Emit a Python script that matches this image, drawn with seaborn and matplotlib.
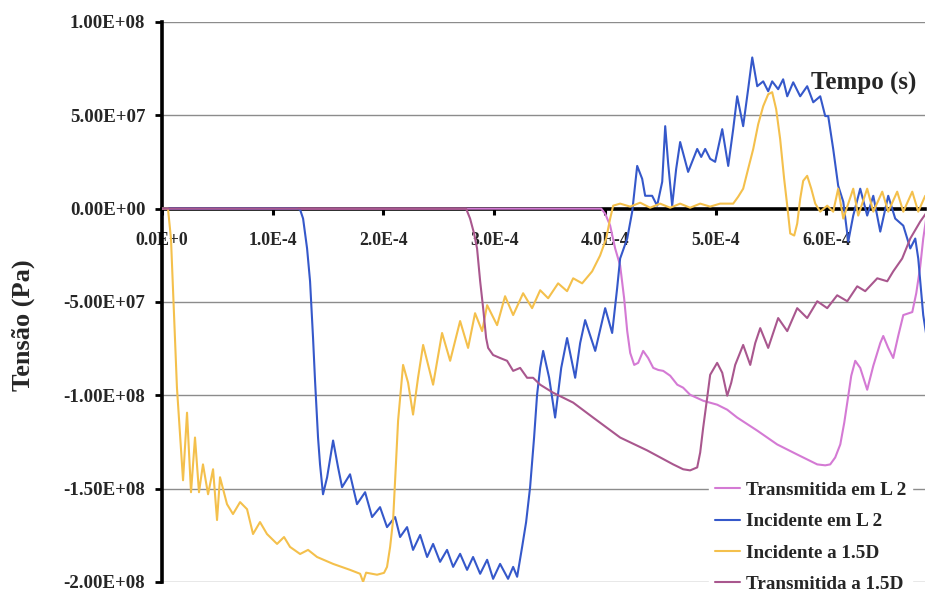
import matplotlib
matplotlib.use("Agg")
import matplotlib.pyplot as plt
import pandas as pd
import seaborn as sns

# ---------------- data (time in microseconds, stress in MPa) ----------------
t_inc_15d = [0, 5.4, 8.1, 9.9, 13.5, 19.0, 22.6, 26.2, 29.8, 33.4, 37.0, 41.6, 46.1, 49.7, 52.4,
             58.7, 64.1, 70.5, 76.8, 82.2, 88.5, 94.8, 103.9, 110.2, 115.6, 124.7, 131.9, 140.0,
             154.5, 169.8, 178.9, 181.6, 184.3, 194.2, 200.5, 203.2, 206.0, 208.7, 213.2, 217.7,
             222.2, 226.7, 231.2, 235.8, 244.8, 252.9, 260.2, 269.2, 276.4, 282.7, 289.1, 293.6,
             302.6, 309.8, 317.1, 326.1, 334.2, 341.5, 348.7, 357.7, 365.8, 371.3, 379.4, 388.4,
             395.6, 401.1, 404.7, 407.4, 413.7, 422.8, 431.8, 440.8, 449.8, 458.9, 467.9, 476.9,
             486.0, 495.0, 504.0, 515.8, 520.3, 524.8, 529.3, 533.9, 538.4, 542.9, 547.4, 551.0,
             554.6, 558.2, 561.8, 564.6, 567.3, 570.9, 573.6, 576.3, 579.0, 582.6, 586.3, 589.9,
             594.4, 600.7, 606.1, 610.6, 615.2, 624.2, 628.7, 636.8, 642.3, 650.4, 655.8, 663.9,
             669.4, 677.5, 682.9, 689.2]
s_inc_15d = [0, 0, -16.0, -42.6, -95.9, -145.5, -109.3, -151.9, -122.6, -151.9, -137.0, -153.0,
             -139.6, -166.8, -143.9, -158.3, -163.6, -157.2, -161.0, -174.3, -167.9, -174.3, -179.6,
             -175.9, -181.2, -185.0, -182.8, -186.6, -190.3, -193.5, -195.6, -199.9, -195.0, -196.1,
             -195.1, -191.9, -181.2, -166.8, -113.5, -83.7, -93.2, -110.3, -90.6, -73.0, -94.3,
             -66.6, -81.5, -60.2, -74.6, -56.0, -65.6, -51.7, -62.4, -46.9, -57.0, -45.3, -53.3,
             -43.7, -48.0, -40.0, -44.2, -37.3, -40.0, -33.6, -25.1, -16.0, -5.3, 1.6, 2.7, 1.1,
             3.2, 0.5, 2.7, 0.5, 2.7, 0.5, 2.7, 1.1, 2.7, 2.7, 6.4, 10.7, 21.3, 32.0, 45.3, 54.9,
             61.3, 62.4, 53.3, 37.3, 16.0, 1.6, -13.3, -14.4, -8.0, 5.3, 14.9, 17.6, 10.7, 2.7,
             -1.6, 1.6, -1.6, 10.7, -5.3, 10.7, -3.7, 10.7, -1.6, 9.1, -1.6, 9.1, -1.6, 9.1, -1.6,
             6.9]

t_inc_l2 = [0, 121.9, 124.7, 127.4, 131.0, 133.7, 136.4, 138.2, 140.9, 142.7, 145.4, 149.1, 154.5,
            159.0, 162.6, 169.8, 176.1, 183.4, 189.7, 196.9, 203.2, 210.5, 215.0, 221.3, 226.7,
            233.1, 239.4, 244.8, 251.1, 257.4, 262.9, 269.2, 275.5, 280.9, 287.3, 293.6, 299.0,
            305.3, 312.5, 317.1, 320.7, 325.2, 328.8, 332.4, 336.0, 338.7, 341.5, 344.2, 349.6,
            355.0, 360.5, 365.8, 373.1, 377.6, 382.1, 391.2, 400.2, 406.5, 411.0, 413.7, 420.1,
            424.6, 429.1, 433.6, 436.3, 442.6, 447.1, 451.7, 454.4, 457.1, 460.7, 464.3, 467.9,
            475.1, 483.3, 486.9, 490.5, 495.0, 499.5, 505.9, 511.3, 515.8, 519.4, 524.8, 529.3,
            533.0, 537.5, 542.9, 547.4, 551.0, 556.4, 560.9, 564.6, 570.0, 576.3, 582.6, 588.1,
            594.4, 598.9, 601.6, 606.1, 610.6, 615.2, 619.7, 624.2, 630.5, 636.8, 642.3, 648.6,
            655.8, 662.1, 669.4, 675.7, 680.2, 682.9, 687.4, 691.0]
s_inc_l2 = [0, 0, -0.5, -5.3, -21.3, -38.9, -69.3, -92.2, -122.6, -137.0, -153.0, -143.9, -124.2,
            -138.6, -149.2, -142.3, -158.3, -151.9, -165.2, -159.9, -170.6, -165.2, -175.9, -170.6,
            -182.8, -174.8, -186.6, -179.6, -189.2, -182.8, -191.9, -184.9, -193.5, -186.6, -195.6,
            -188.1, -198.3, -190.3, -198.3, -191.9, -197.2, -181.2, -167.9, -149.2, -122.6, -99.7,
            -85.3, -76.2, -90.6, -111.9, -85.3, -69.3, -90.6, -72.0, -59.7, -76.2, -53.3, -66.6,
            -42.6, -26.7, -16.0, -1.6, 22.9, 16.0, 6.9, 6.9, 1.6, 14.4, 44.2, 24.0, 1.6, 21.3, 35.7,
            19.7, 32.0, 27.7, 32.0, 26.7, 25.1, 42.6, 22.9, 42.6, 60.2, 44.2, 64.0, 81.0, 65.6,
            68.2, 62.9, 68.2, 64.0, 69.3, 60.2, 67.7, 60.2, 65.6, 57.0, 60.2, 49.6, 49.6, 32.0,
            12.3, 3.7, -17.6, -3.7, 10.7, -3.7, 6.9, -12.3, 6.9, -5.3, -9.1, -21.3, -16.0, -26.7,
            -57.0, -70.9]

t_tr_15d = [0, 274.6, 278.2, 281.8, 284.5, 287.3, 290.0, 292.7, 294.5, 299.0, 305.3, 311.6, 317.1,
            323.4, 329.7, 335.1, 341.5, 353.2, 371.3, 389.3, 413.7, 438.1, 461.6, 470.6, 476.9,
            483.3, 486.0, 488.7, 492.3, 495.0, 501.3, 505.9, 510.4, 514.0, 517.6, 524.8, 531.2,
            535.7, 540.2, 547.4, 556.4, 564.6, 573.6, 582.6, 591.7, 600.7, 609.7, 618.8, 627.8,
            635.0, 645.9, 654.9, 660.3, 668.4, 675.7, 684.7, 691.0]
s_tr_15d = [0, 0, -5.3, -13.3, -21.3, -38.9, -53.3, -69.3, -74.6, -78.4, -80.0, -81.5, -86.9, -85.3,
            -90.6, -90.6, -94.3, -98.6, -103.9, -111.9, -122.6, -129.5, -137.0, -139.6, -140.2,
            -138.6, -130.6, -117.3, -101.3, -89.0, -82.6, -87.9, -100.2, -93.3, -83.7, -73.0, -83.7,
            -72.0, -64.0, -74.6, -58.6, -65.6, -53.3, -58.6, -49.6, -53.3, -46.4, -49.6, -41.6,
            -44.2, -37.3, -38.9, -33.6, -26.7, -16.0, -6.9, -1.6]

t_tr_l2 = [0, 396.6, 400.2, 404.7, 409.2, 413.7, 417.3, 420.1, 422.8, 426.4, 430.0, 434.5, 439.0,
           443.6, 448.1, 452.6, 458.9, 465.3, 470.6, 476.9, 488.7, 501.3, 510.4, 519.4, 537.5,
           555.5, 573.6, 591.7, 598.9, 603.4, 607.9, 612.5, 616.1, 618.8, 622.4, 626.0, 630.5,
           636.8, 642.3, 648.6, 651.3, 655.8, 660.3, 664.8, 669.4, 677.5, 681.1, 684.7, 687.4,
           691.0]
s_tr_l2 = [0, 0, -2.7, -9.1, -21.3, -30.4, -48.0, -65.6, -77.3, -83.7, -82.6, -76.2, -80.0, -85.3,
           -86.4, -86.9, -89.5, -94.3, -95.9, -99.7, -102.9, -105.0, -107.7, -111.9, -118.9, -126.3,
           -131.7, -137.0, -137.5, -137.0, -133.3, -126.3, -114.6, -103.9, -89.5, -81.5, -85.3,
           -97.0, -84.2, -72.0, -68.2, -74.6, -80.0, -68.2, -57.0, -55.4, -45.3, -30.9, -16.0, -1.6]

series_names = ["Transmitida em L 2", "Incidente em L 2", "Incidente a 1.5D", "Transmitida a 1.5D"]
series_t = [t_tr_l2, t_inc_l2, t_inc_15d, t_tr_15d]
series_s = [s_tr_l2, s_inc_l2, s_inc_15d, s_tr_15d]
series_colors = ["#D47AD4", "#3558CA", "#F4C04C", "#A9578E"]

x_ticks = [0.0, 1e-4, 2e-4, 3e-4, 4e-4, 5e-4, 6e-4]
x_tick_labels = ["0.0E+0", "1.0E-4", "2.0E-4", "3.0E-4", "4.0E-4", "5.0E-4", "6.0E-4"]
y_ticks = [1e8, 5e7, 0.0, -5e7, -1e8, -1.5e8, -2e8]
y_tick_labels = ["1.00E+08", "5.00E+07", "0.00E+00", "-5.00E+07", "-1.00E+08", "-1.50E+08", "-2.00E+08"]

# ---------------- style ----------------
sns.set_theme(style="white")
plt.rcParams["font.family"] = ["Liberation Serif", "DejaVu Serif"]
plt.rcParams["font.weight"] = "bold"

fig = plt.figure(figsize=(9.28, 5.93), dpi=100)
ax = fig.add_axes([162 / 928, 11 / 593, 763 / 928, 560 / 593])

for name, t, s, c in zip(series_names, series_t, series_s, series_colors):
    df = pd.DataFrame({"Tempo": [v * 1e-6 for v in t], "Tensao": [v * 1e6 for v in s]})
    sns.lineplot(data=df, x="Tempo", y="Tensao", color=c, label=name, ax=ax,
                 estimator=None, sort=False, linewidth=1.5, zorder=3,
                 solid_joinstyle="round", solid_capstyle="round")

ax.set_xlim(0, 6.89e-4)
ax.set_ylim(-2e8, 1e8)

# grid
for yv in y_ticks:
    if yv != 0:
        ax.axhline(yv, color="#8c8c8c", linewidth=1.0, zorder=1)

# spines
for sp in ["top", "right"]:
    ax.spines[sp].set_visible(False)
ax.spines["bottom"].set_position(("data", 0))
ax.spines["bottom"].set_linewidth(2.6)
ax.spines["bottom"].set_color("black")
ax.spines["bottom"].set_zorder(2.5)
ax.spines["left"].set_linewidth(2.6)
ax.spines["left"].set_color("black")

ax.set_xticks(x_ticks)
ax.set_xticklabels(x_tick_labels, fontsize=12.8, fontweight="bold")
ax.set_yticks(y_ticks)
ax.set_yticklabels(y_tick_labels, fontsize=13.6, fontweight="bold")
ax.tick_params(axis="x", direction="out", length=4, width=2.2, color="black", pad=13, bottom=True)
ax.tick_params(axis="y", direction="out", length=5, width=2.0, color="black", pad=7, left=True)

ax.set_xlabel("")
ax.set_ylabel("")
fig.text(23 / 928, 1 - 325 / 593, "Tensão (Pa)", rotation=90, ha="center", va="center",
         fontsize=19, fontweight="bold")
fig.text(864 / 928, 1 - 83 / 593, "Tempo (s)", ha="center", va="center",
         fontsize=18, fontweight="bold")

leg = ax.legend(loc="upper left", bbox_to_anchor=(709 / 928, 1 - 476 / 593),
                bbox_transform=fig.transFigure, frameon=True, fancybox=False,
                facecolor="white", edgecolor="white", framealpha=1.0,
                prop={"family": ["Liberation Serif"], "weight": "bold", "size": 13.8},
                handlelength=1.3, handletextpad=0.35, labelspacing=0.72, borderpad=0.3,
                borderaxespad=0)
leg.set_zorder(5)

fig.savefig("out.png", dpi=100)
